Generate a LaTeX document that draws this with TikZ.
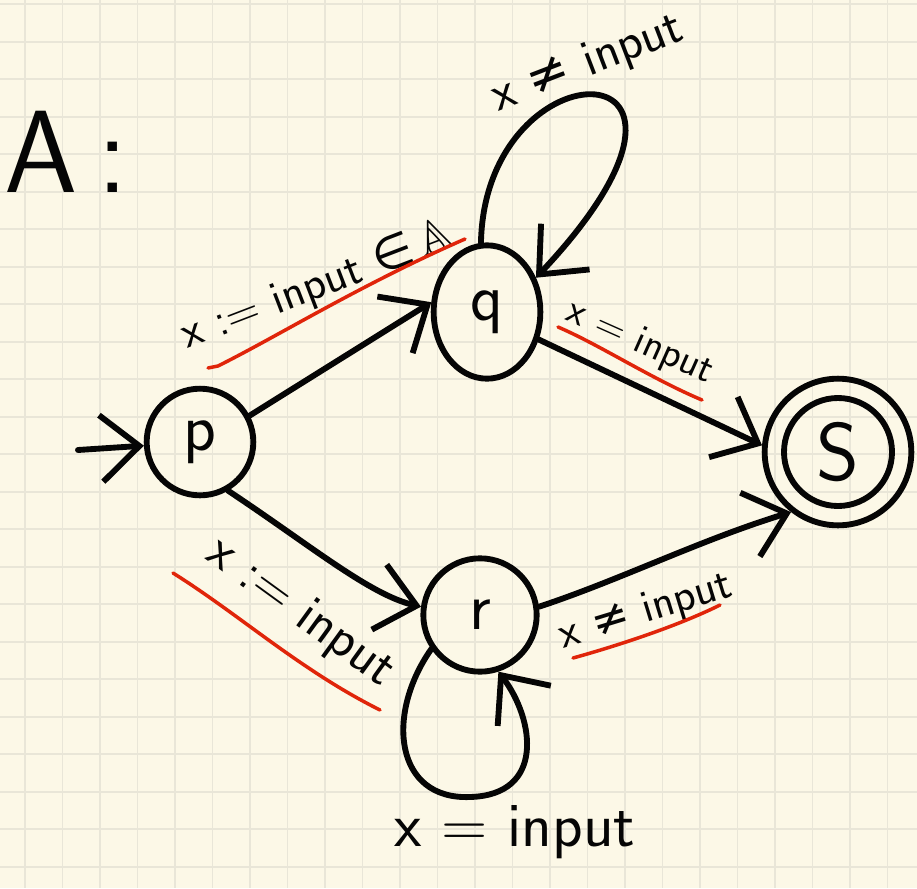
\documentclass[tikz,border=0pt]{standalone}
\usepackage{amssymb}
\usepackage{graphicx}
\usepackage{fontspec}
\newfontfamily\symf{DejaVu Sans}
\usetikzlibrary{arrows.meta,shapes.geometric}
\definecolor{paper}{HTML}{FCF8E7}
\definecolor{gridc}{HTML}{E9E6D8}
\definecolor{ink}{HTML}{050505}
\definecolor{redink}{HTML}{E0250A}
\newcommand{\bbA}{\resizebox{!}{0.7em}{$\mathbb{A}$}}
\begin{document}
\begin{tikzpicture}[x=0.03cm,y=-0.03cm,
  stnode/.style={draw=ink, line width=5pt, circle, inner sep=0pt, text=ink,
    font=\sffamily\fontsize{58}{62}\selectfont},
  arr/.style={draw=ink, line width=5pt, line cap=round, line join=round,
    -{Straight Barb[length=1.15cm,width=2cm]}},
  lbl/.style={text=ink, inner sep=1pt},
  redline/.style={draw=redink, line width=3pt, line cap=round, line join=round}]
\fill[paper] (0,0) rectangle (917,888);
\useasboundingbox (0,0) rectangle (917,888);
\foreach \i in {0,...,23} {
  \draw[gridc, line width=1.5pt] ({25+37.5*\i},0) -- ({25+37.5*\i},888);
  \draw[gridc, line width=1.5pt] (0,{4.2+37.5*\i}) -- (917,{4.2+37.5*\i});
}
% title
\node[text=ink, font=\sffamily\fontsize{100}{110}\selectfont] (title) at (66,152) {A\,:};
% states
\node[stnode, minimum size=3.2cm] (p) at (200,442) {p};
\node[stnode, ellipse, minimum width=3.2cm, minimum height=4cm] (q) at (487,312) {q};
\node[stnode, minimum size=4.4cm, font=\sffamily\fontsize{70}{74}\selectfont] (s) at (838,452) {S};
\draw[ink, line width=5pt] (s.center) circle[radius=1.62cm];
\node[stnode, minimum size=3.4cm] (r) at (480,615) {r};
\coordinate (init) at (78,450);
% transitions
\draw[arr] (init) -- (p);
\draw[arr] (p.28) -- (q.170);
\draw[arr] (q.-28) -- (s.175);
\draw[arr] (p.-60) .. controls (310,545) and (370,595) .. (r.172);
\draw[arr] (r.8) .. controls (620,580) and (700,540) .. (s.232);
\draw[arr] (q.95) .. controls (485,40) and (760,40) .. (q.35);
\draw[arr] (r.215) .. controls (385,715) and (395,800) .. (470,797)
  .. controls (545,795) and (535,720) .. (r.-72);
% labels
\node[lbl, rotate=21, font=\sffamily\fontsize{40}{46}\selectfont] (l1) at (318,286) {x := input {\symf ∈}\,\bbA};
\node[lbl, rotate=21, font=\sffamily\fontsize{44}{50}\selectfont] (l2) at (588,64) {x {\symf ≠} input};
\node[lbl, rotate=-24, font=\sffamily\fontsize{35}{40}\selectfont] (l3) at (640,343) {x = input};
\node[lbl, rotate=-36, font=\sffamily\fontsize{46}{52}\selectfont] (l4) at (300,613) {x := input};
\node[lbl, rotate=17, font=\sffamily\fontsize{39}{44}\selectfont] (l5) at (646,612) {x {\symf ≠} input};
\node[lbl, font=\sffamily\fontsize{54}{60}\selectfont] (l6) at (515,832) {x = input};
% red underlines
\draw[redline] (208,368) -- (218,366) .. controls (280,335) and (360,285) .. (465,239);
\draw[redline] (558,327) .. controls (600,345) and (650,378) .. (702,400);
\draw[redline] (173,573) .. controls (240,615) and (300,670) .. (380,710);
\draw[redline] (573,658) .. controls (620,645) and (680,625) .. (720,605);
\end{tikzpicture}
\end{document}
